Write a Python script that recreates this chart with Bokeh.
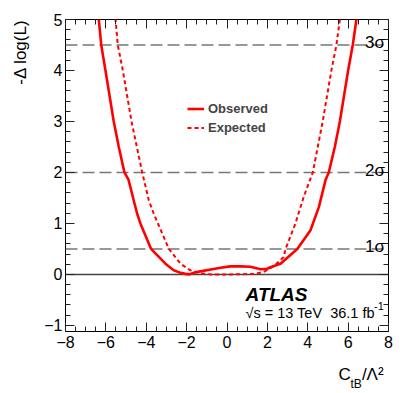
import math
from bokeh.plotting import figure
from bokeh.models import (Range1d, LinearAxis, Span, Label, Legend, LegendItem,
                          FixedTicker, Title)
from bokeh.embed import file_html
from bokeh.resources import INLINE

# ---- data ----
obs_x = [-6.45, -6.35, -6.23, -6.02, -5.61, -5.36, -5.08, -4.88, -4.62, -4.45,
         -4.29, -3.76, -3.05, -2.64, -2.30, -2.06, -1.89, -1.52, -0.32, 0.17,
         0.67, 1.16, 1.66, 1.99, 2.15, 2.65, 3.48, 4.13, 4.55, 4.88, 5.04,
         5.34, 5.59, 6.00, 6.23, 6.41, 6.50]
obs_y = [5.3, 5.0, 4.5, 4.0, 3.0, 2.5, 2.0, 1.86, 1.45, 1.19,
         1.0, 0.5, 0.21, 0.08, 0.03, 0.01, 0.0, 0.045, 0.13, 0.157,
         0.157, 0.15, 0.10, 0.11, 0.14, 0.21, 0.5, 0.86, 1.32, 1.85, 2.0,
         2.5, 3.0, 4.0, 4.5, 5.0, 5.3]

exp_x = [-5.65, -5.52, -5.41, -5.16, -4.73, -4.20, -3.87, -3.63, -2.88, -2.30,
         -1.81, -1.31, -0.80, 0.20, 1.40, 1.82, 2.32, 2.81, 2.90, 3.39,
         3.80, 4.25, 4.74, 5.17, 5.42, 5.59, 5.72]
exp_y = [5.3, 5.0, 4.5, 4.0, 3.0, 2.0, 1.45, 1.19, 0.5, 0.21,
         0.08, 0.02, 0.0, 0.0, 0.01, 0.05, 0.16, 0.34, 0.5, 1.0,
         1.52, 2.0, 3.0, 4.0, 4.5, 5.0, 5.3]

sigma_levels = [0.5, 2.0, 4.5]
sigma_labels = ["1σ", "2σ", "3σ"]

x_ticks = [-8, -6, -4, -2, 0, 2, 4, 6, 8]
x_tick_labels = ["−8", "−6", "−4", "−2", "0", "2", "4", "6", "8"]
x_minor = [-8 + 0.5 * i for i in range(33)]
y_ticks = [-1, 0, 1, 2, 3, 4, 5]
y_tick_labels = ["−1", "0", "1", "2", "3", "4", "5"]
y_minor = [-1.2 + 0.2 * i for i in range(32)]

y_title = "-Δ log(L)"
x_title_main = {5.826: "C", 7.22: "/Λ²"}   # label pieces at their x positions
x_title_sub = {6.40: "tB"}

FONT = "Liberation Sans"
RED = "#ff0000"

p = figure(width=409, height=393, output_backend="svg", toolbar_location=None,
           x_range=Range1d(-8, 8), y_range=Range1d(-1.12, 5),
           min_border_left=65, min_border_right=21, min_border_top=19,
           min_border_bottom=62, x_axis_type=None, y_axis_type=None)
p.grid.visible = False
p.outline_line_color = "black"
p.outline_line_width = 1
p.background_fill_color = "white"
p.border_fill_color = "white"


def style_axis(ax, ticks, minor, labels, show_labels):
    ax.ticker = FixedTicker(ticks=ticks, minor_ticks=minor)
    ax.major_tick_in = 9
    ax.major_tick_out = 0
    ax.minor_tick_in = 5
    ax.minor_tick_out = 0
    ax.major_tick_line_color = "#222222"
    ax.minor_tick_line_color = "#222222"
    ax.axis_line_color = None
    if show_labels:
        ax.major_label_overrides = {t: l for t, l in zip(ticks, labels)}
        ax.major_label_text_font = FONT
        ax.major_label_text_font_size = "16px"
        ax.major_label_text_color = "black"
    else:
        ax.major_label_text_font_size = "1px"
        ax.major_label_text_color = None
        ax.major_label_standoff = 0


def text_axis(pieces, size, standoff):
    ax = LinearAxis(ticker=FixedTicker(ticks=list(pieces.keys()), minor_ticks=[]))
    ax.major_label_overrides = dict(pieces)
    ax.major_label_text_font = FONT
    ax.major_label_text_font_size = size
    ax.major_label_text_color = "black"
    ax.major_label_standoff = standoff
    ax.major_tick_in = 0
    ax.major_tick_out = 0
    ax.minor_tick_in = 0
    ax.minor_tick_out = 0
    ax.major_tick_line_color = None
    ax.minor_tick_line_color = None
    ax.axis_line_color = None
    return ax


xb = LinearAxis()
style_axis(xb, x_ticks, x_minor, x_tick_labels, True)
xb.major_label_standoff = 4
p.add_layout(xb, "below")
# x axis title: C_tB / Λ^2 drawn as axis texts at the right end
p.add_layout(text_axis(x_title_main, "17px", 14), "below")
p.add_layout(text_axis(x_title_sub, "12px", -10), "below")

xt = LinearAxis()
style_axis(xt, x_ticks, x_minor, x_tick_labels, False)
p.add_layout(xt, "above")
yl = LinearAxis()
style_axis(yl, y_ticks, y_minor, y_tick_labels, True)
yl.major_label_standoff = 3
p.add_layout(yl, "left")
yr = LinearAxis()
style_axis(yr, y_ticks, y_minor, y_tick_labels, False)
p.add_layout(yr, "right")

# y axis title, rotated and aligned to the top
p.add_layout(Title(text=y_title, align="right", vertical_align="top",
                   text_font=FONT, text_font_size="17px",
                   text_font_style="normal", text_color="black", standoff=20),
             "left")

# reference lines
for lvl in sigma_levels:
    p.add_layout(Span(location=lvl, dimension="width", line_color="#777777",
                      line_width=1.5, line_dash="12 5", level="underlay"))
p.add_layout(Span(location=0, dimension="width", line_color="#444444",
                  line_width=1.5, level="underlay"))

r_obs = p.line(obs_x, obs_y, line_color=RED, line_width=2.6)
r_exp = p.line(exp_x, exp_y, line_color=RED, line_width=2, line_dash="4 3")

legend = Legend(items=[LegendItem(label="Observed", renderers=[r_obs]),
                       LegendItem(label="Expected", renderers=[r_exp])],
                location=(122, 194), orientation="vertical")
legend.label_text_font = FONT
legend.label_text_font_style = "bold"
legend.label_text_font_size = "13px"
legend.glyph_width = 17
legend.glyph_height = 19
legend.label_height = 19
legend.label_standoff = 4
legend.spacing = 0
legend.padding = 0
legend.margin = 0
legend.border_line_color = None
legend.background_fill_alpha = 0
p.add_layout(legend)

# sigma labels
for lvl, lab in zip(sigma_levels, sigma_labels):
    p.add_layout(Label(x=7.83, y=lvl + 0.045, text=lab, text_align="right",
                       text_baseline="alphabetic", text_font=FONT,
                       text_font_size="17px", text_color="black"))

# ATLAS labels
p.add_layout(Label(x=0.92, y=-0.385, text="ATLAS", text_font=FONT,
                   text_font_style="bold italic", text_font_size="19px",
                   text_baseline="middle", text_color="black"))
p.add_layout(Label(x=0.916, y=-0.75, text="√s = 13 TeV\u00a0\u00a036.1 fb",
                   text_font=FONT, text_font_size="14.5px", text_baseline="middle",
                   text_color="black"))
p.add_layout(Label(x=7.28, y=-0.62, text="-1", text_font=FONT,
                   text_font_size="11px", text_baseline="middle", text_color="black"))

open("out.html", "w").write(file_html(p, INLINE))
